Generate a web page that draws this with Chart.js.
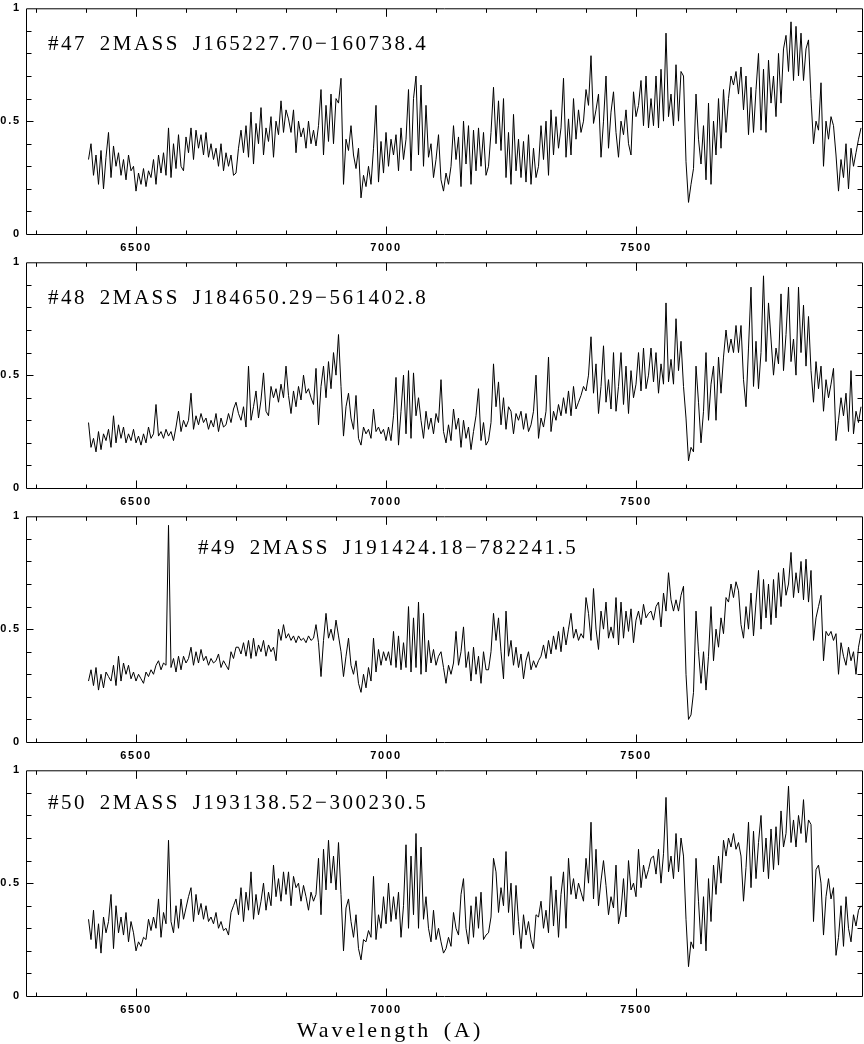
<!DOCTYPE html>
<html>
<head>
<meta charset="utf-8">
<title>2MASS spectra #47-#50</title>
<script src="https://cdn.jsdelivr.net/npm/chart.js@4.4.1/dist/chart.umd.min.js"></script>
<style>
  body { margin: 0; background: #fff; }
  #wrap { position: relative; width: 864px; height: 1044px; overflow: hidden; }
  canvas { position: absolute; left: 0; display: block; }
</style>
</head>
<body>
<div id="wrap">
  <canvas id="c0" width="864" height="254" style="top:0px"></canvas>
  <canvas id="c1" width="864" height="254" style="top:254px"></canvas>
  <canvas id="c2" width="864" height="254" style="top:508px"></canvas>
  <canvas id="c3" width="864" height="282" style="top:762px"></canvas>
</div>
<script>
// ===========================
// Data (flux, 5 A sampling from 6405 A)
// ===========================

const waveStart = 6405;
const waveStep = 5;

const flux47 = [
  0.33, 0.40, 0.26, 0.35, 0.22, 0.37, 0.20, 0.34, 0.45, 0.25, 0.39, 0.30, 0.36, 0.26, 0.33, 0.24, 0.35, 0.28, 0.30, 0.19,
  0.27, 0.22, 0.29, 0.21, 0.28, 0.25, 0.33, 0.22, 0.35, 0.27, 0.36, 0.26, 0.47, 0.25, 0.40, 0.29, 0.44, 0.30, 0.28, 0.43,
  0.36, 0.47, 0.33, 0.46, 0.38, 0.44, 0.35, 0.45, 0.34, 0.40, 0.33, 0.38, 0.30, 0.40, 0.28, 0.36, 0.30, 0.35, 0.26, 0.27,
  0.38, 0.46, 0.36, 0.48, 0.34, 0.54, 0.31, 0.49, 0.40, 0.56, 0.35, 0.47, 0.41, 0.52, 0.34, 0.50, 0.44, 0.59, 0.45, 0.55,
  0.51, 0.45, 0.55, 0.36, 0.50, 0.43, 0.47, 0.38, 0.50, 0.40, 0.46, 0.39, 0.48, 0.64, 0.35, 0.57, 0.41, 0.62, 0.40, 0.60,
  0.58, 0.69, 0.22, 0.42, 0.37, 0.48, 0.35, 0.29, 0.38, 0.16, 0.26, 0.21, 0.30, 0.22, 0.38, 0.57, 0.23, 0.41, 0.27, 0.45,
  0.30, 0.42, 0.35, 0.44, 0.28, 0.47, 0.33, 0.42, 0.64, 0.28, 0.60, 0.70, 0.35, 0.66, 0.30, 0.57, 0.34, 0.40, 0.25, 0.33,
  0.44, 0.24, 0.19, 0.27, 0.22, 0.30, 0.48, 0.33, 0.43, 0.21, 0.50, 0.31, 0.48, 0.22, 0.46, 0.28, 0.47, 0.30, 0.45, 0.26,
  0.30, 0.45, 0.65, 0.40, 0.59, 0.37, 0.60, 0.25, 0.45, 0.22, 0.53, 0.28, 0.42, 0.25, 0.41, 0.23, 0.44, 0.22, 0.38, 0.25,
  0.30, 0.48, 0.33, 0.50, 0.26, 0.55, 0.35, 0.52, 0.38, 0.47, 0.69, 0.34, 0.51, 0.35, 0.60, 0.42, 0.55, 0.45, 0.50, 0.64,
  0.57, 0.79, 0.49, 0.55, 0.62, 0.34, 0.50, 0.70, 0.38, 0.54, 0.63, 0.45, 0.34, 0.50, 0.44, 0.55, 0.40, 0.35, 0.63, 0.52,
  0.57, 0.68, 0.48, 0.70, 0.47, 0.60, 0.48, 0.70, 0.47, 0.73, 0.50, 0.89, 0.52, 0.62, 0.48, 0.75, 0.50, 0.72, 0.70, 0.32,
  0.14, 0.22, 0.29, 0.62, 0.42, 0.31, 0.48, 0.24, 0.58, 0.22, 0.50, 0.35, 0.60, 0.38, 0.64, 0.45, 0.60, 0.70, 0.66, 0.72,
  0.62, 0.74, 0.55, 0.70, 0.44, 0.65, 0.45, 0.64, 0.80, 0.46, 0.73, 0.45, 0.77, 0.58, 0.70, 0.52, 0.80, 0.58, 0.82, 0.88,
  0.72, 0.94, 0.68, 0.92, 0.70, 0.89, 0.68, 0.82, 0.86, 0.60, 0.40, 0.50, 0.46, 0.67, 0.30, 0.50, 0.42, 0.52, 0.48, 0.35,
  0.19, 0.33, 0.25, 0.40, 0.20, 0.38, 0.30, 0.36, 0.42, 0.47
];

const flux48 = [
  0.29, 0.18, 0.22, 0.16, 0.25, 0.17, 0.24, 0.21, 0.26, 0.18, 0.32, 0.20, 0.28, 0.22, 0.27, 0.20, 0.24, 0.21, 0.26, 0.20,
  0.23, 0.19, 0.24, 0.20, 0.27, 0.22, 0.24, 0.37, 0.23, 0.25, 0.22, 0.26, 0.23, 0.25, 0.21, 0.27, 0.34, 0.25, 0.30, 0.27,
  0.30, 0.42, 0.26, 0.32, 0.28, 0.33, 0.29, 0.31, 0.26, 0.30, 0.27, 0.33, 0.25, 0.31, 0.27, 0.28, 0.33, 0.29, 0.35, 0.38,
  0.33, 0.30, 0.36, 0.27, 0.54, 0.30, 0.36, 0.43, 0.31, 0.39, 0.51, 0.34, 0.32, 0.45, 0.40, 0.44, 0.38, 0.46, 0.40, 0.54,
  0.41, 0.33, 0.43, 0.36, 0.45, 0.39, 0.50, 0.42, 0.44, 0.40, 0.37, 0.53, 0.28, 0.45, 0.54, 0.40, 0.56, 0.44, 0.60, 0.50,
  0.68, 0.45, 0.23, 0.36, 0.42, 0.31, 0.26, 0.41, 0.22, 0.19, 0.27, 0.24, 0.26, 0.22, 0.35, 0.25, 0.27, 0.24, 0.26, 0.21,
  0.27, 0.21, 0.32, 0.49, 0.19, 0.34, 0.50, 0.24, 0.52, 0.22, 0.51, 0.32, 0.40, 0.30, 0.22, 0.34, 0.26, 0.31, 0.24, 0.33,
  0.29, 0.48, 0.25, 0.20, 0.28, 0.21, 0.35, 0.26, 0.31, 0.18, 0.30, 0.22, 0.27, 0.17, 0.25, 0.32, 0.44, 0.21, 0.29, 0.19,
  0.21, 0.29, 0.55, 0.36, 0.47, 0.28, 0.40, 0.26, 0.36, 0.34, 0.24, 0.33, 0.30, 0.34, 0.26, 0.33, 0.25, 0.28, 0.34, 0.50,
  0.22, 0.31, 0.27, 0.34, 0.58, 0.25, 0.34, 0.30, 0.37, 0.32, 0.40, 0.33, 0.43, 0.32, 0.45, 0.35, 0.38, 0.41, 0.45, 0.43,
  0.50, 0.67, 0.42, 0.55, 0.33, 0.45, 0.63, 0.38, 0.48, 0.35, 0.60, 0.34, 0.45, 0.60, 0.37, 0.54, 0.33, 0.52, 0.40, 0.46,
  0.60, 0.43, 0.62, 0.44, 0.50, 0.62, 0.47, 0.60, 0.42, 0.55, 0.46, 0.82, 0.47, 0.57, 0.46, 0.75, 0.52, 0.65, 0.45, 0.31,
  0.12, 0.18, 0.16, 0.54, 0.38, 0.20, 0.34, 0.60, 0.30, 0.46, 0.54, 0.30, 0.58, 0.42, 0.58, 0.70, 0.60, 0.66, 0.60, 0.72,
  0.60, 0.72, 0.48, 0.36, 0.62, 0.89, 0.45, 0.65, 0.44, 0.60, 0.94, 0.56, 0.82, 0.66, 0.50, 0.62, 0.55, 0.86, 0.52, 0.68,
  0.89, 0.56, 0.66, 0.50, 0.89, 0.60, 0.81, 0.54, 0.76, 0.52, 0.38, 0.56, 0.44, 0.54, 0.34, 0.48, 0.40, 0.46, 0.53, 0.21,
  0.30, 0.40, 0.32, 0.42, 0.25, 0.52, 0.24, 0.34, 0.29, 0.36
];

const flux49 = [
  0.27, 0.32, 0.25, 0.33, 0.23, 0.30, 0.24, 0.31, 0.29, 0.27, 0.34, 0.25, 0.38, 0.27, 0.35, 0.30, 0.34, 0.28, 0.31, 0.27,
  0.30, 0.28, 0.26, 0.31, 0.29, 0.32, 0.30, 0.34, 0.36, 0.32, 0.35, 0.34, 0.96, 0.33, 0.37, 0.31, 0.38, 0.32, 0.38, 0.35,
  0.37, 0.42, 0.34, 0.40, 0.35, 0.41, 0.36, 0.38, 0.34, 0.37, 0.35, 0.36, 0.39, 0.33, 0.36, 0.34, 0.32, 0.40, 0.37, 0.42,
  0.42, 0.39, 0.44, 0.38, 0.45, 0.37, 0.46, 0.38, 0.43, 0.40, 0.45, 0.38, 0.43, 0.40, 0.42, 0.36, 0.50, 0.45, 0.52, 0.46,
  0.48, 0.45, 0.47, 0.44, 0.47, 0.45, 0.46, 0.44, 0.47, 0.45, 0.46, 0.52, 0.44, 0.29, 0.45, 0.57, 0.46, 0.50, 0.45, 0.54,
  0.47, 0.40, 0.29, 0.38, 0.46, 0.34, 0.30, 0.36, 0.26, 0.22, 0.30, 0.24, 0.33, 0.27, 0.46, 0.31, 0.41, 0.34, 0.40, 0.36,
  0.40, 0.34, 0.49, 0.33, 0.47, 0.32, 0.44, 0.33, 0.60, 0.31, 0.55, 0.33, 0.62, 0.30, 0.57, 0.31, 0.45, 0.35, 0.41, 0.34,
  0.38, 0.40, 0.33, 0.26, 0.34, 0.30, 0.35, 0.49, 0.34, 0.40, 0.51, 0.33, 0.40, 0.27, 0.42, 0.30, 0.38, 0.26, 0.40, 0.32,
  0.32, 0.40, 0.57, 0.45, 0.55, 0.40, 0.28, 0.58, 0.38, 0.45, 0.34, 0.42, 0.33, 0.39, 0.28, 0.36, 0.40, 0.32, 0.36, 0.33,
  0.36, 0.38, 0.43, 0.37, 0.45, 0.39, 0.47, 0.41, 0.49, 0.40, 0.51, 0.43, 0.50, 0.57, 0.46, 0.50, 0.45, 0.48, 0.46, 0.64,
  0.57, 0.45, 0.68, 0.50, 0.41, 0.58, 0.50, 0.62, 0.46, 0.51, 0.46, 0.64, 0.43, 0.62, 0.46, 0.58, 0.49, 0.59, 0.44, 0.54,
  0.58, 0.52, 0.61, 0.55, 0.57, 0.58, 0.54, 0.60, 0.62, 0.51, 0.66, 0.58, 0.75, 0.63, 0.58, 0.63, 0.58, 0.65, 0.69, 0.30,
  0.10, 0.12, 0.22, 0.58, 0.40, 0.26, 0.40, 0.23, 0.38, 0.60, 0.36, 0.50, 0.42, 0.55, 0.48, 0.64, 0.62, 0.70, 0.64, 0.71,
  0.67, 0.52, 0.46, 0.60, 0.50, 0.66, 0.47, 0.62, 0.76, 0.50, 0.72, 0.55, 0.70, 0.52, 0.72, 0.55, 0.75, 0.60, 0.77, 0.65,
  0.70, 0.84, 0.64, 0.75, 0.66, 0.80, 0.63, 0.81, 0.62, 0.76, 0.45, 0.55, 0.60, 0.65, 0.36, 0.49, 0.47, 0.49, 0.45, 0.48,
  0.30, 0.44, 0.38, 0.34, 0.42, 0.36, 0.40, 0.30, 0.42, 0.48
];

const flux50 = [
  0.34, 0.25, 0.38, 0.21, 0.32, 0.19, 0.35, 0.28, 0.33, 0.45, 0.21, 0.40, 0.28, 0.35, 0.27, 0.37, 0.24, 0.33, 0.28, 0.20,
  0.24, 0.22, 0.26, 0.25, 0.34, 0.29, 0.35, 0.30, 0.43, 0.26, 0.37, 0.32, 0.69, 0.33, 0.28, 0.40, 0.30, 0.43, 0.34, 0.39,
  0.44, 0.48, 0.33, 0.45, 0.36, 0.41, 0.34, 0.40, 0.33, 0.35, 0.32, 0.37, 0.30, 0.33, 0.29, 0.30, 0.27, 0.37, 0.40, 0.43,
  0.36, 0.48, 0.33, 0.46, 0.38, 0.55, 0.34, 0.45, 0.36, 0.42, 0.50, 0.38, 0.46, 0.40, 0.58, 0.44, 0.52, 0.42, 0.55, 0.45,
  0.55, 0.40, 0.53, 0.48, 0.50, 0.42, 0.49, 0.44, 0.38, 0.46, 0.42, 0.45, 0.61, 0.36, 0.65, 0.47, 0.69, 0.50, 0.62, 0.47,
  0.68, 0.45, 0.20, 0.39, 0.43, 0.33, 0.26, 0.36, 0.21, 0.16, 0.25, 0.24, 0.29, 0.26, 0.53, 0.25, 0.36, 0.30, 0.44, 0.32,
  0.50, 0.33, 0.44, 0.34, 0.46, 0.26, 0.40, 0.67, 0.30, 0.62, 0.36, 0.72, 0.30, 0.66, 0.34, 0.44, 0.30, 0.24, 0.38, 0.25,
  0.30, 0.24, 0.19, 0.21, 0.26, 0.22, 0.37, 0.30, 0.27, 0.45, 0.52, 0.30, 0.23, 0.40, 0.26, 0.44, 0.30, 0.46, 0.25, 0.27,
  0.28, 0.35, 0.61, 0.55, 0.37, 0.48, 0.40, 0.64, 0.37, 0.50, 0.27, 0.49, 0.33, 0.21, 0.36, 0.27, 0.33, 0.25, 0.21, 0.36,
  0.35, 0.42, 0.30, 0.38, 0.28, 0.53, 0.31, 0.47, 0.26, 0.45, 0.55, 0.30, 0.61, 0.45, 0.52, 0.43, 0.50, 0.46, 0.42, 0.61,
  0.50, 0.77, 0.43, 0.65, 0.40, 0.51, 0.60, 0.49, 0.36, 0.44, 0.39, 0.58, 0.32, 0.38, 0.52, 0.35, 0.60, 0.47, 0.50, 0.44,
  0.65, 0.48, 0.58, 0.52, 0.56, 0.61, 0.62, 0.54, 0.65, 0.50, 0.63, 0.88, 0.55, 0.62, 0.52, 0.72, 0.55, 0.70, 0.62, 0.34,
  0.13, 0.24, 0.21, 0.61, 0.42, 0.23, 0.44, 0.20, 0.52, 0.33, 0.58, 0.45, 0.62, 0.50, 0.69, 0.62, 0.70, 0.66, 0.72, 0.65,
  0.68, 0.62, 0.42, 0.57, 0.77, 0.48, 0.73, 0.52, 0.68, 0.80, 0.55, 0.70, 0.52, 0.74, 0.56, 0.75, 0.58, 0.82, 0.66, 0.72,
  0.93, 0.68, 0.78, 0.66, 0.80, 0.72, 0.87, 0.68, 0.78, 0.76, 0.33, 0.56, 0.58, 0.50, 0.27, 0.44, 0.52, 0.43, 0.48, 0.18,
  0.26, 0.40, 0.22, 0.44, 0.30, 0.24, 0.36, 0.31, 0.38, 0.40
];

const titles = [
  "#47 2MASS J165227.70\u2212160738.4",
  "#48 2MASS J184650.29\u2212561402.8",
  "#49 2MASS J191424.18\u2212782241.5",
  "#50 2MASS J193138.52\u2212300230.5"
];

const xTicks = [6500, 7000, 7500];
const yTicks = [0, 0.5, 1];
const xLabel = "Wavelength (A)";

// ===========================
// Panel layout (pixels)
// ===========================

const panels = [
  { id: "c0", flux: flux47, padTop: 5, plotH: 229, tx: 22, ty: 41.7 },
  { id: "c1", flux: flux48, padTop: 5, plotH: 229, tx: 22, ty: 41.7 },
  { id: "c2", flux: flux49, padTop: 4, plotH: 230, tx: 172, ty: 38 },
  { id: "c3", flux: flux50, padTop: 5, plotH: 229, tx: 22, ty: 38.7 },
];

// ===========================
// Frame, inside ticks, titles
// ===========================

const framePlugin = {
  id: "frame",
  beforeDraw(chart) {
    // wide tick-label lettering
    chart.ctx.letterSpacing = "1.8px";
  },
  afterDraw(chart, args, opts) {
    const { ctx, chartArea: a, scales } = chart;
    const x = scales.x;
    const y = scales.y;

    ctx.save();
    ctx.letterSpacing = "0px";
    ctx.strokeStyle = "#000";
    ctx.lineWidth = 1;

    const L = a.left + 0.5;
    const R = a.right + 0.5;
    const T = a.top + 0.5;
    const B = a.bottom + 0.5;

    ctx.beginPath();
    ctx.rect(L, T, R - L, B - T);

    for (let w = Math.ceil(x.min / 100) * 100; w <= x.max; w += 100) {
      const px = Math.round(x.getPixelForValue(w)) + 0.5;
      const len = xTicks.includes(w) ? 8 : 4;
      ctx.moveTo(px, B);
      ctx.lineTo(px, B - len);
      ctx.moveTo(px, T);
      ctx.lineTo(px, T + len);
    }

    for (let k = 1; k < 10; k++) {
      const py = Math.round(y.getPixelForValue(k / 10)) + 0.5;
      const len = k === 5 ? 7 : 5;
      ctx.moveTo(L, py);
      ctx.lineTo(L + len, py);
      ctx.moveTo(R, py);
      ctx.lineTo(R - len, py);
    }
    ctx.stroke();

    // object name
    ctx.fillStyle = "#000";
    ctx.font = '21px "Liberation Serif"';
    ctx.letterSpacing = "2.5px";
    ctx.wordSpacing = "5px";
    ctx.textAlign = "left";
    ctx.textBaseline = "alphabetic";
    ctx.fillText(opts.title, a.left + opts.tx, a.top + opts.ty);

    // x axis label on the last panel only
    if (opts.axisLabel) {
      ctx.font = '22px "Liberation Serif"';
      ctx.letterSpacing = "3px";
      ctx.wordSpacing = "4px";
      ctx.textAlign = "center";
      ctx.fillText(opts.axisLabel, a.left + 364, a.bottom + 40.7);
    }
    ctx.restore();
  },
};

// ===========================
// Create Charts
// ===========================

panels.forEach((p, idx) => {
  const canvas = document.getElementById(p.id);
  const points = p.flux.map((f, i) => ({ x: waveStart + i * waveStep, y: f }));

  new Chart(canvas.getContext("2d"), {
    type: "line",
    data: {
      datasets: [
        {
          data: points,
          borderColor: "#000",
          borderWidth: 1,
          pointRadius: 0,
          tension: 0,
          fill: false,
        },
      ],
    },
    options: {
      responsive: false,
      animation: false,
      events: [],
      layout: {
        padding: { top: p.padTop, right: 2, bottom: 0, left: 0 },
      },
      scales: {
        x: {
          type: "linear",
          min: 6280,
          max: 7952,
          grid: { display: false, drawTicks: false },
          border: { display: false },
          afterBuildTicks: (scale) => {
            scale.ticks = xTicks.map((v) => ({ value: v }));
          },
          afterFit: (scale) => {
            scale.height = canvas.height - p.padTop - p.plotH;
          },
          ticks: {
            font: { family: "Liberation Sans", size: 11, weight: "bold", lineHeight: 1.2 },
            color: "#000",
            padding: 7,
            maxRotation: 0,
            autoSkip: false,
            callback: (v) => String(v),
          },
        },
        y: {
          min: 0,
          max: 1,
          grid: { display: false, drawTicks: false },
          border: { display: false },
          afterBuildTicks: (scale) => {
            scale.ticks = yTicks.map((v) => ({ value: v }));
          },
          afterFit: (scale) => {
            scale.width = 26;
          },
          ticks: {
            font: { family: "Liberation Sans", size: 11, weight: "bold", lineHeight: 0.6 },
            color: "#000",
            padding: 5,
            callback: (v) => String(v),
          },
        },
      },
      plugins: {
        legend: { display: false },
        tooltip: { enabled: false },
        frame: {
          title: titles[idx],
          tx: p.tx,
          ty: p.ty,
          axisLabel: idx === panels.length - 1 ? xLabel : null,
        },
      },
    },
    plugins: [framePlugin],
  });
});
</script>
</body>
</html>
